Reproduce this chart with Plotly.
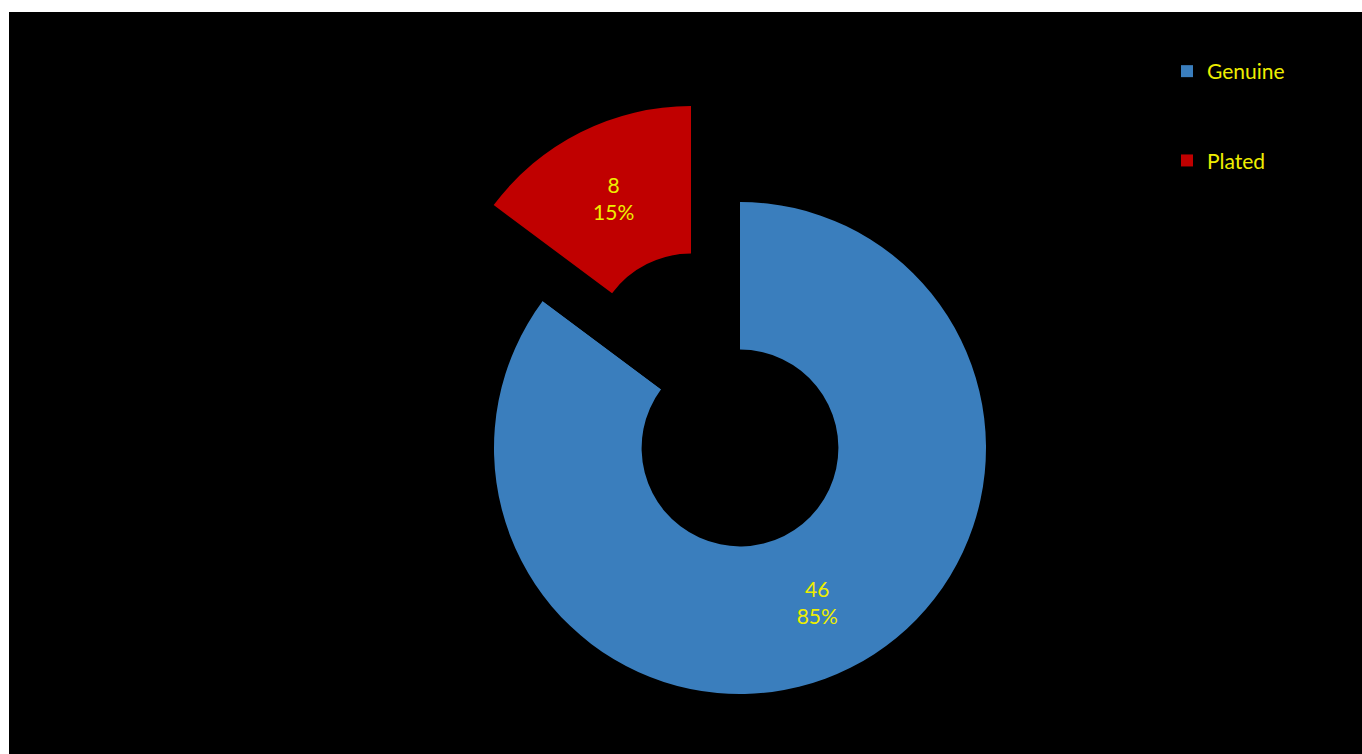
import plotly.graph_objects as go

# ---- data ----
categories = ["Genuine", "Plated"]
counts = [46, 8]
slice_colors = ["#3A7EBD", "#C00000"]

TEXT_COLOR = "#EEEE00"
FONT = "Lato"

W, H = 1362, 754
ML, MT = 9, 12
PW, PH = W - ML, H - MT


def dom(cx, cy, r):
    """pixel centre/radius -> paper domain"""
    x0 = (cx - r - ML) / PW
    x1 = (cx + r - ML) / PW
    y0 = (H - (cy + r)) / PH
    y1 = (H - (cy - r)) / PH
    return dict(x=[x0, x1], y=[y0, y1])


R = 246
main_dom = dom(740, 448, R)
pulled_dom = dom(691, 352, R)
hidden_dom = dom(740, 620, 20)

fig = go.Figure()

# legend-only swatches (hidden beneath the main ring)
for i, (lab, val, col) in enumerate(zip(categories, counts, slice_colors)):
    fig.add_trace(go.Pie(
        labels=[lab], values=[val], marker=dict(colors=[col], line=dict(width=0)),
        domain=hidden_dom, textinfo="none", hoverinfo="skip", sort=False,
        showlegend=True, legendgroup=f"g{i}",
    ))

# main ring: Genuine slice, gap where Plated was
fig.add_trace(go.Pie(
    labels=categories, values=counts,
    marker=dict(colors=[slice_colors[0], "#000000"], line=dict(width=0)),
    hole=0.4, sort=False, direction="clockwise", rotation=0,
    domain=main_dom, showlegend=False,
    texttemplate=["%{value}<br>%{percent:.0%}", ""],
    textposition="inside", insidetextorientation="horizontal",
    textfont=dict(color=TEXT_COLOR, size=21, family=FONT),
    hoverinfo="label+value+percent",
))

# exploded Plated slice
fig.add_trace(go.Pie(
    labels=categories, values=counts,
    marker=dict(colors=["rgba(0,0,0,0)", slice_colors[1]], line=dict(width=0)),
    hole=0.4, sort=False, direction="clockwise", rotation=0,
    domain=pulled_dom, showlegend=False,
    texttemplate=["", "%{value}<br>%{percent:.0%}"],
    textposition="inside", insidetextorientation="horizontal",
    textfont=dict(color=TEXT_COLOR, size=21, family=FONT),
    hoverinfo="label+value+percent",
))

fig.update_layout(
    width=W, height=H,
    margin=dict(l=ML, t=MT, r=0, b=0, pad=0),
    paper_bgcolor="white",
    font=dict(family=FONT, color=TEXT_COLOR, size=21),
    shapes=[dict(type="rect", xref="paper", yref="paper", x0=0, x1=1, y0=0, y1=1,
                 fillcolor="black", line=dict(width=0), layer="below")],
    legend=dict(
        x=(1167 - ML) / PW, xanchor="left",
        y=(H - 51) / PH, yanchor="top",
        font=dict(family=FONT, color=TEXT_COLOR, size=21),
        bgcolor="rgba(0,0,0,0)",
        tracegroupgap=59,
        traceorder="grouped",
    ),
)

fig.write_html(
    "out.html",
    config={"displayModeBar": False},
    post_script="document.body.style.margin='0';document.body.style.overflow='hidden';",
)
